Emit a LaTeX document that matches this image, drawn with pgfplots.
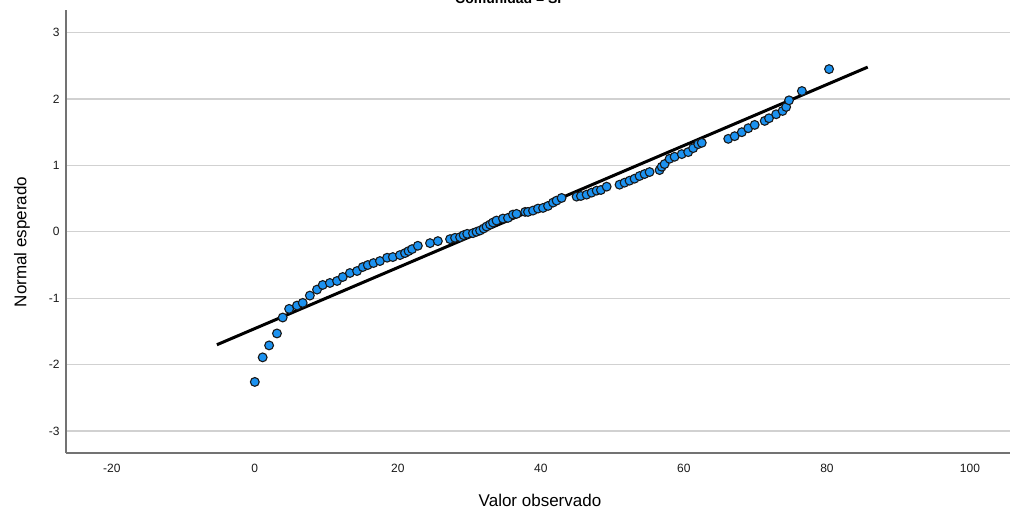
\documentclass[border=0pt]{standalone}
\usepackage{fontspec}
\setmainfont{Liberation Sans}
\usepackage{pgfplots}
\pgfplotsset{compat=1.18}
\definecolor{ptblue}{RGB}{28,146,240}
\begin{document}
\begin{tikzpicture}[x=1bp,y=1bp]
\begin{axis}[at={(66bp,59bp)}, anchor=south west, scale only axis,
  width=944bp, height=443bp,
  xmin=-26.4, xmax=105.6, ymin=-3.33, ymax=3.34,
  axis x line*=bottom, axis y line*=left,
  axis line style={-, color=black!55, line width=1.2bp},
  xtick={-20,0,20,40,60,80,100}, ytick={-3,-2,-1,0,1,2,3},
  major tick length=0pt,
  ymajorgrids, grid style={color=black!18, line width=1.3bp},
  tick label style={font=\fontsize{12bp}{14bp}\selectfont, color=black!90},
  /pgf/number format/assume math mode=true,
  xticklabel style={yshift=-8bp}, yticklabel style={xshift=-3bp},
  clip=false]
\addplot[black, line width=3bp] coordinates {(-5.3,-1.70) (85.7,2.48)};
\addplot[only marks, mark=*, mark size=4.4bp,
  mark options={fill=ptblue, draw=black!90, line width=1.1bp}] coordinates {
(0.0,-2.26) (1.1,-1.89) (2.0,-1.71) (3.1,-1.53) (3.9,-1.29) (4.8,-1.16)
(5.9,-1.11) (6.7,-1.07) (7.7,-0.96) (8.7,-0.87) (9.5,-0.80) (10.5,-0.77)
(11.5,-0.74) (12.3,-0.68) (13.3,-0.62) (14.3,-0.59) (15.1,-0.53) (15.8,-0.50)
(16.6,-0.47) (17.5,-0.44) (18.5,-0.39) (19.3,-0.38) (20.3,-0.35) (21.0,-0.32)
(21.5,-0.29) (22.0,-0.26) (22.8,-0.21) (24.5,-0.17) (25.6,-0.14) (27.3,-0.11)
(28.0,-0.09) (28.7,-0.08) (29.2,-0.05) (29.7,-0.03) (30.5,-0.02) (31.0,0.00)
(31.5,0.02) (32.0,0.05) (32.4,0.08) (32.9,0.11) (33.3,0.14) (33.8,0.17)
(34.7,0.20) (35.4,0.21) (36.1,0.26) (36.6,0.27) (37.8,0.30) (38.2,0.30)
(38.9,0.32) (39.6,0.35) (40.3,0.36) (41.0,0.39) (41.7,0.44) (42.2,0.47)
(42.9,0.51) (45.0,0.53) (45.6,0.54) (46.4,0.56) (47.1,0.59) (47.8,0.62)
(48.4,0.63) (49.2,0.68) (51.0,0.71) (51.7,0.74) (52.4,0.77) (53.1,0.80)
(53.8,0.84) (54.5,0.87) (55.2,0.90) (56.6,0.93) (56.9,0.98) (57.3,1.02)
(58.0,1.10) (58.7,1.13) (59.7,1.17) (60.6,1.20) (61.3,1.26) (62.0,1.32)
(62.5,1.34) (66.2,1.40) (67.1,1.44) (68.1,1.50) (69.0,1.56) (69.9,1.61)
(71.3,1.67) (71.9,1.71) (72.9,1.77) (73.8,1.82) (74.3,1.88) (74.7,1.98)
(76.5,2.12) (80.3,2.45)
};
\end{axis}
\node[font=\fontsize{17bp}{19bp}\selectfont] at (540bp,12bp) {Valor observado};
\node[rotate=90, font=\fontsize{17bp}{19bp}\selectfont] at (22bp,270bp) {Normal esperado};
\node[anchor=base, font=\bfseries\fontsize{14bp}{16bp}\selectfont] at (511bp,508bp) {Comunidad = SP};
\pgfresetboundingbox
\useasboundingbox (0,0) rectangle (1010bp,512bp);
\end{tikzpicture}
\end{document}
